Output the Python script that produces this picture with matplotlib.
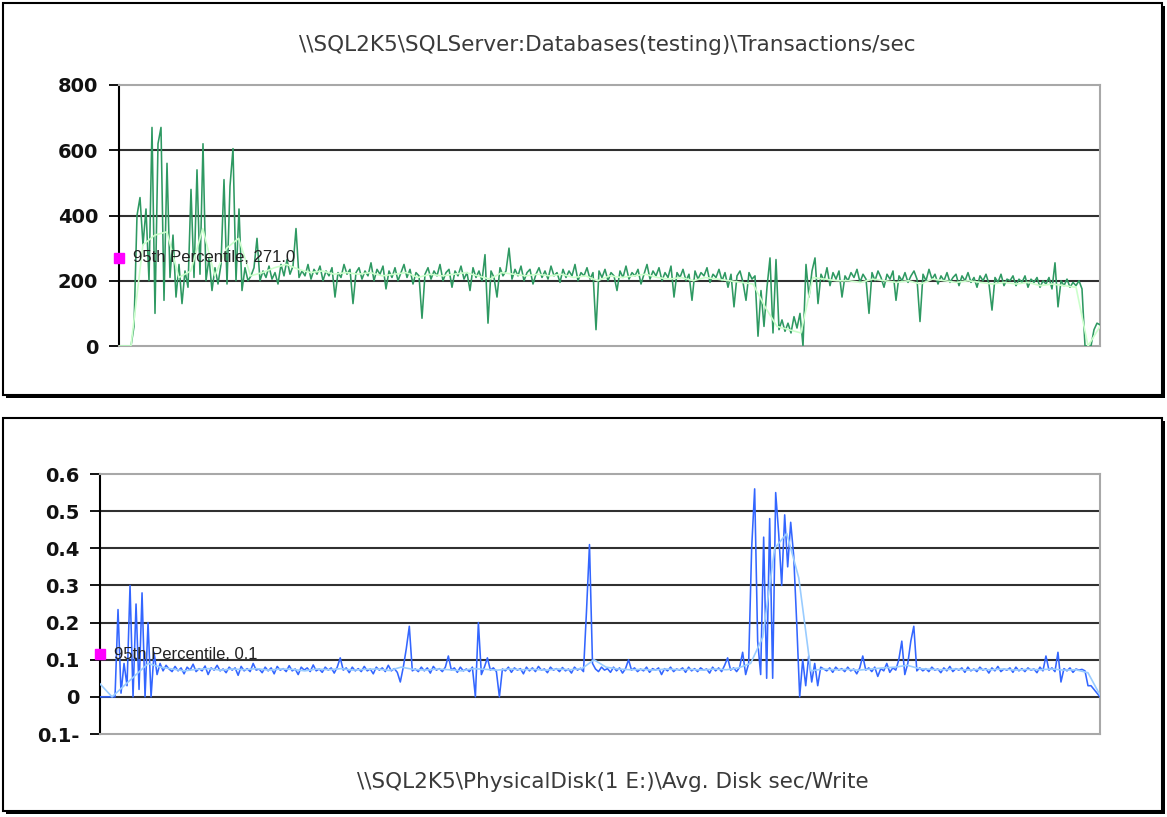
import numpy as np
import matplotlib.pyplot as plt
from matplotlib.patches import Rectangle

W, H = 1167, 817

# ── Transactions/sec ─────────────────────────────────────────────────────────
TX_TITLE = r"\\SQL2K5\SQLServer:Databases(testing)\Transactions/sec"
TX_TICKS = [0, 200, 400, 600, 800]
TX_TICK_LABELS = ["0", "200", "400", "600", "800"]
TX_P95 = 271.0

tx_raw = [
    0, 0, 0, 0, 0, 60, 400, 455, 310, 420, 200, 670, 100, 620, 670, 140, 560, 210, 340, 150,
    250, 130, 230, 180, 480, 210, 540, 220, 620, 200, 270, 170, 240, 190, 250, 510, 190, 490, 605, 200,
    420, 170, 240, 200,
    215, 240, 330, 200, 230, 210, 245, 205, 225, 190, 250, 215, 265, 220, 245, 360, 210,
    230, 215, 250, 205, 235, 220, 245, 200, 230, 215, 240, 150, 225, 210, 250, 220, 235, 130, 225,
    240, 205, 230, 215, 255, 200, 235, 220, 245, 175, 230, 210, 240, 200, 225, 250, 210, 235, 190, 225,
    215, 85,
    220, 240, 205, 230, 215, 250, 200, 225, 235, 180, 230, 215, 245, 205, 225, 170, 240, 210, 230, 200,
    280, 70, 230, 210, 150, 240, 215, 230, 300, 205, 235, 215, 245, 200, 225, 235, 190, 220, 240,
    210, 230, 205, 245, 215, 225, 195, 235, 210, 230, 215, 250, 200, 225, 215, 240, 205, 225, 50, 230,
    210, 235, 200, 225, 215, 170, 230, 210, 245, 205, 225, 215, 235, 190, 220, 250, 205, 230, 215, 240,
    200, 225, 210, 245, 150,
    225, 210, 235, 200, 220, 140, 230, 205, 225, 215, 240, 195, 220, 210, 235, 200, 225, 180, 220, 120,
    215, 230, 195, 140, 225, 205, 215,
    30, 170, 60, 180, 270, 40, 265, 50, 80, 45, 70, 40, 90, 55, 100, 0,
    250, 150, 230, 270, 130, 220, 200, 240, 185, 225, 205, 230,
    150, 215, 200, 225, 210, 235, 195, 220, 205, 100, 225, 200, 230, 210, 180, 220, 205, 230, 140, 215,
    200, 225, 195, 215, 230, 205, 75, 220, 200, 235, 205, 220, 190, 215, 200, 225, 195, 210, 220, 185,
    215, 200, 225, 195, 210, 180, 215, 200, 220, 190, 110, 210, 195, 220, 185, 205, 200, 215, 185, 205,
    195, 215, 180, 205, 195, 210, 180, 200, 190, 210, 175, 255, 120, 200, 185, 205, 180, 195, 185, 200,
    175, 0, 0, 0, 50, 70, 65,
]

tx_avg = [
    0, 0, 310, 340, 350, 210, 230, 360, 215, 300, 330, 215, 225, 240, 250, 235, 225, 230, 220, 225,
    220, 225, 215, 220, 225, 210, 220, 215, 220, 225, 215, 205, 225, 220, 215, 220, 215, 220, 210, 215,
    200, 215, 210, 215, 220, 210, 205, 210, 200, 210, 205, 200, 195, 190, 120, 60, 50, 40, 210, 205,
    200, 200, 195, 205, 200, 195, 200, 190, 205, 200, 195, 200, 195, 190, 195, 190, 195, 185, 190, 185,
    180, 0, 60,
]

# ── Avg. Disk sec/Write ──────────────────────────────────────────────────────
DISK_TITLE = r"\\SQL2K5\PhysicalDisk(1 E:)\Avg. Disk sec/Write"
DISK_TICKS = [-0.1, 0.0, 0.1, 0.2, 0.3, 0.4, 0.5, 0.6]
DISK_TICK_LABELS = ["0.1-", "0", "0.1", "0.2", "0.3", "0.4", "0.5", "0.6"]
DISK_P95 = 0.115

disk_raw = [
    0, 0, 0, 0, 0, 0, 0.235, 0.01, 0.09, 0.03, 0.30, 0.0, 0.25, 0.02, 0.28, 0.0, 0.20, 0.0, 0.12, 0.06,
    0.09, 0.07, 0.085,
    0.075, 0.068, 0.082, 0.07, 0.078, 0.062, 0.08, 0.072, 0.088, 0.068,
    0.076, 0.07, 0.083, 0.06, 0.078, 0.072, 0.085, 0.07, 0.075, 0.065,
    0.08, 0.072, 0.078, 0.058, 0.082, 0.07, 0.076, 0.068, 0.09, 0.072,
    0.075, 0.065, 0.08, 0.07, 0.078, 0.062, 0.082, 0.072, 0.076, 0.068,
    0.084, 0.07, 0.075, 0.06, 0.08, 0.072, 0.078, 0.068, 0.086, 0.07,
    0.075, 0.066, 0.08, 0.072, 0.078, 0.064, 0.08,
    0.105,
    0.072, 0.078, 0.065, 0.08, 0.07, 0.076, 0.068, 0.082, 0.07, 0.075,
    0.062, 0.08, 0.072, 0.078, 0.068, 0.085, 0.07, 0.076, 0.066,
    0.04, 0.08, 0.13, 0.19, 0.07,
    0.075, 0.068, 0.08, 0.07, 0.078, 0.064, 0.082, 0.072, 0.076, 0.068, 0.08,
    0.11,
    0.072, 0.078, 0.066, 0.08, 0.07, 0.075, 0.068, 0.08,
    0.0, 0.2, 0.06, 0.08, 0.105, 0.072, 0.078, 0.068, 0.0,
    0.075, 0.07, 0.08, 0.066, 0.078, 0.072, 0.076, 0.062, 0.08, 0.07,
    0.078, 0.068, 0.082, 0.072, 0.075, 0.065, 0.08, 0.072, 0.076, 0.068,
    0.079, 0.07, 0.075, 0.064, 0.08, 0.072, 0.077, 0.068,
    0.23, 0.41, 0.09,
    0.075, 0.068, 0.08, 0.072, 0.076, 0.066, 0.08, 0.07, 0.078, 0.064, 0.076,
    0.10,
    0.072, 0.078, 0.068, 0.075, 0.07, 0.08, 0.066, 0.076, 0.072, 0.078,
    0.06, 0.076, 0.07, 0.08, 0.068, 0.075, 0.072, 0.078, 0.066, 0.08,
    0.07, 0.076, 0.068, 0.078, 0.072, 0.075, 0.064, 0.08, 0.07, 0.078,
    0.068, 0.085,
    0.105, 0.072, 0.078, 0.068, 0.08, 0.12, 0.06, 0.09,
    0.40, 0.56, 0.15, 0.06, 0.43, 0.05, 0.48, 0.05, 0.55, 0.44, 0.30, 0.49, 0.35, 0.47, 0.38, 0.20, 0.0,
    0.10, 0.03, 0.11, 0.04, 0.09, 0.03, 0.08,
    0.075, 0.07, 0.078, 0.066, 0.08, 0.072, 0.076, 0.068, 0.08, 0.07, 0.075, 0.062, 0.078,
    0.11,
    0.072, 0.078, 0.068, 0.08, 0.055, 0.076, 0.07, 0.09, 0.066, 0.078, 0.072, 0.1,
    0.15, 0.06, 0.09, 0.15, 0.19, 0.07,
    0.078, 0.07, 0.076, 0.068, 0.08, 0.072, 0.075, 0.065, 0.078, 0.07,
    0.082, 0.068, 0.076, 0.072, 0.078, 0.066, 0.08, 0.07, 0.075, 0.068,
    0.08, 0.072, 0.076, 0.064, 0.078, 0.07, 0.082, 0.068, 0.075, 0.072,
    0.078, 0.066, 0.08, 0.07, 0.076, 0.068, 0.078, 0.072, 0.075, 0.065,
    0.08, 0.07,
    0.11, 0.072, 0.078, 0.068, 0.12, 0.04,
    0.076, 0.07, 0.078, 0.066, 0.075, 0.072, 0.074,
    0.07, 0.03, 0.03, 0.02, 0.01, 0.0,
]

disk_avg = [
    0.035, 0.0, 0.03, 0.06, 0.09, 0.08, 0.075, 0.07, 0.074, 0.076,
    0.072, 0.075, 0.073, 0.076, 0.072, 0.075, 0.074, 0.07, 0.075, 0.073,
    0.076, 0.072, 0.074, 0.075, 0.071, 0.08, 0.074, 0.072, 0.075, 0.073,
    0.07, 0.076, 0.074, 0.072, 0.075, 0.073, 0.074, 0.072, 0.075, 0.073,
    0.076, 0.1, 0.08, 0.075, 0.073, 0.074, 0.072, 0.075, 0.073, 0.074,
    0.072, 0.075, 0.073, 0.078, 0.09, 0.16, 0.40, 0.44, 0.32, 0.07,
    0.075, 0.073, 0.074, 0.072, 0.075, 0.078, 0.08, 0.085, 0.076, 0.074,
    0.073, 0.075, 0.072, 0.074, 0.073, 0.075, 0.072, 0.074, 0.073, 0.075,
    0.072, 0.073, 0.065, 0.005,
]

GREEN, LIGHT_GREEN = "#2E9962", "#CCFFCC"
BLUE, LIGHT_BLUE = "#3366FF", "#99CCFF"
GRID_DARK = "#303030"
BORDER_GRAY = "#A8A8A8"
TEXT_COLOR = "#3A3A3A"


def fx(px):
    return px / W


def fy(py):
    return 1 - py / H


def frame(fig, left, top, right, bottom):
    # drop shadow, then the white card with a thin black edge
    fig.patches.append(Rectangle((fx(left + 3), fy(bottom + 3)), fx(right - left), (bottom - top) / H,
                                 transform=fig.transFigure, facecolor="black", edgecolor="none",
                                 zorder=-20))
    fig.patches.append(Rectangle((fx(left), fy(bottom)), fx(right - left), (bottom - top) / H,
                                 transform=fig.transFigure, facecolor="white", edgecolor="black",
                                 linewidth=1.5, zorder=-10))


def style_axes(ax, ticks, labels, grid_vals):
    for side in ("top", "right", "bottom"):
        ax.spines[side].set_color(BORDER_GRAY)
        ax.spines[side].set_linewidth(1.5)
    ax.spines["left"].set_color("black")
    ax.spines["left"].set_linewidth(1.5)
    ax.set_xticks([])
    ax.set_yticks(ticks)
    ax.set_yticklabels(labels)
    ax.tick_params(axis="y", length=7, width=1.3, direction="out", pad=8)
    for lab in ax.get_yticklabels():
        lab.set_fontweight("bold")
        lab.set_fontsize(14)
        lab.set_color("#111111")
    for v in grid_vals:
        ax.axhline(v, color=GRID_DARK, linewidth=1.5, zorder=1)


def percentile_mark(ax, value, text):
    ax.plot([0], [value], marker="s", markersize=6.5, color="#FF00FF", linestyle="none",
            clip_on=False, zorder=6)
    ax.annotate(text, xy=(0, value), xytext=(10, 0), textcoords="offset points",
                ha="left", va="center", fontsize=12, family="Liberation Sans",
                color="#222222", zorder=6, annotation_clip=False)


def main():
    fig = plt.figure(figsize=(W / 100, H / 100), dpi=100)
    fig.patch.set_facecolor("white")

    frame(fig, 3, 3, 1162, 395)
    frame(fig, 3, 418, 1162, 811)

    # --------------------------------
    # Transactions/sec
    # --------------------------------
    ax1 = fig.add_axes([fx(119), fy(346), fx(1100 - 119), (346 - 85) / H])
    ax1.set_facecolor("none")
    x_raw = np.arange(len(tx_raw))
    x_avg = np.linspace(0, len(tx_raw) - 1, len(tx_avg))
    ax1.plot(x_raw, tx_raw, color=GREEN, linewidth=1.15, zorder=3)
    ax1.plot(x_avg, tx_avg, color=LIGHT_GREEN, linewidth=1.2, zorder=4)
    ax1.set_xlim(0, len(tx_raw) - 1)
    ax1.set_ylim(0, 800)
    style_axes(ax1, TX_TICKS, TX_TICK_LABELS, [200, 400, 600])
    percentile_mark(ax1, TX_P95, f"95th Percentile, {TX_P95:.1f}")
    fig.text(fx(607), fy(45), TX_TITLE, ha="center", va="center", fontsize=15.5,
             color=TEXT_COLOR)

    # --------------------------------
    # Avg. Disk sec/Write
    # --------------------------------
    ax2 = fig.add_axes([fx(100), fy(734), fx(1100 - 100), (734 - 474) / H])
    ax2.set_facecolor("none")
    x_raw = np.arange(len(disk_raw))
    x_avg = np.linspace(0, len(disk_raw) - 1, len(disk_avg))
    ax2.plot(x_raw, disk_raw, color=BLUE, linewidth=1.15, zorder=3)
    ax2.plot(x_avg, disk_avg, color=LIGHT_BLUE, linewidth=1.2, zorder=4)
    ax2.set_xlim(0, len(disk_raw) - 1)
    ax2.set_ylim(-0.1, 0.6)
    style_axes(ax2, DISK_TICKS, DISK_TICK_LABELS, [0.0, 0.1, 0.2, 0.3, 0.4, 0.5])
    percentile_mark(ax2, DISK_P95, f"95th Percentile, {DISK_P95:.1f}")
    fig.text(fx(613), fy(782), DISK_TITLE, ha="center", va="center", fontsize=15.5,
             color=TEXT_COLOR)

    fig.savefig("out.png", dpi=100)


if __name__ == "__main__":
    main()
